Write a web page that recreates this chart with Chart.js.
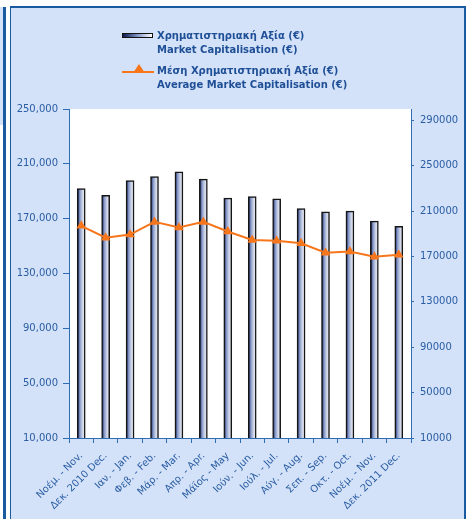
<!DOCTYPE html>
<html>
<head>
<meta charset="utf-8">
<script src="https://cdn.jsdelivr.net/npm/chart.js@4.4.1/dist/chart.umd.min.js"></script>
<style>
  body { margin: 0; background: #fff; width: 466px; height: 519px; overflow: hidden; position: relative; font-family: "DejaVu Sans", sans-serif; }
  #strip1 { position: absolute; left: 0; top: 7px; width: 3px; height: 118px; background: #d3e2f8; }
  #strip2 { position: absolute; left: 3px; top: 7px; width: 3px; height: 520px; background: #1a5aa0; }
  #panel { position: absolute; left: 10px; top: 6px; width: 453px; height: 520px; background: #d3e2f8;
           border-left: 1px solid #1a5aa0; border-top: 2px solid #1a5aa0; border-right: 2px solid #1a5aa0; }
  #myChart { position: absolute; left: 0; top: 0; }
  #legend { position: absolute; left: 122px; top: 29px; color: #1f4f96; font-weight: bold; font-size: 10px; line-height: 14px; }
  .item { position: relative; padding-left: 35px; margin-bottom: 6.5px; }
  .sw { position: absolute; left: 0; }
  .bar { top: 4px; width: 29px; height: 2.5px; border: 1.5px solid #111; background: linear-gradient(to right, #0b1a52, #8ea0cc 55%, #fff); }
  .ln { top: 7px; width: 32px; height: 2px; background: #f7761c; }
  .tri { position: absolute; left: 11px; top: -7px; width: 0; height: 0; border-left: 6px solid transparent; border-right: 6px solid transparent; border-bottom: 9px solid #f7761c; }
</style>
</head>
<body>
<div id="strip1"></div>
<div id="strip2"></div>
<div id="panel"></div>
<canvas id="myChart" width="466" height="519"></canvas>
<div id="legend"></div>
<script>
const categories = ['Νοέμ. - Nov.', 'Δεκ. 2010 Dec.', 'Ιαν. - Jan.', 'Φεβ. - Feb.', 'Μάρ. - Mar.', 'Απρ. - Apr.', 'Μάϊος - May',
  'Ιούν. - Jun.', 'Ιούλ. - Jul.', 'Αύγ. - Aug.', 'Σεπ. - Sep.', 'Οκτ. - Oct.', 'Νοέμ. - Nov.', 'Δεκ. 2011 Dec.'];
const marketCap = [192000, 187000, 197800, 200700, 204100, 198800, 185000, 186100, 184500, 177400, 175000, 175500, 168200, 164500];
const avgMarketCap = [197000, 186500, 189300, 200500, 195500, 200500, 192000, 184500, 183800, 181600, 173300, 174400, 169700, 171500];
const labelsGr = ['Χρηματιστηριακή Αξία (€)', 'Μέση Χρηματιστηριακή Αξία  (€)'];
const labelsEn = ['Market Capitalisation (€)', 'Average Market Capitalisation (€)'];
const leftTicks = [10000, 50000, 90000, 130000, 170000, 210000, 250000];
const rightTicks = [10000, 50000, 90000, 130000, 170000, 210000, 250000, 290000];
const rightMax = 300000;

const blue = '#2e6db4';
const textBlue = '#2a5da3';
const font = { family: 'DejaVu Sans', size: 10 };

function barFill(c) {
  const sx = c.chart.scales.x;
  if (!sx || sx.width === undefined) return '#8ea0cc';
  const cx = sx.getPixelForValue(c.dataIndex);
  const g = c.chart.ctx.createLinearGradient(cx - 3.5, 0, cx + 3.5, 0);
  g.addColorStop(0, '#1a2a66');
  g.addColorStop(0.3, '#8597c8');
  g.addColorStop(0.65, '#c8d0e4');
  g.addColorStop(1, '#eef0f6');
  return g;
}

const plotBg = {
  id: 'plotBg',
  beforeDraw(chart) {
    const a = chart.chartArea;
    chart.ctx.save();
    chart.ctx.fillStyle = '#fff';
    chart.ctx.fillRect(a.left, a.top, a.right - a.left, a.bottom - a.top);
    chart.ctx.restore();
  }
};

const ctx = document.getElementById('myChart').getContext('2d');
const chart = new Chart(ctx, {
  type: 'bar',
  data: {
    labels: categories,
    datasets: [
      {
        type: 'bar',
        label: labelsEn[0],
        data: marketCap,
        yAxisID: 'y',
        backgroundColor: barFill,
        borderColor: '#151515',
        borderWidth: 1.5,
        barThickness: 8,
        order: 2
      },
      {
        type: 'line',
        label: labelsEn[1],
        data: avgMarketCap,
        yAxisID: 'y2',
        borderColor: '#f7761c',
        backgroundColor: '#f7761c',
        borderWidth: 2,
        pointStyle: 'triangle',
        pointRadius: 5.5,
        pointBorderWidth: 0,
        order: 1
      }
    ]
  },
  options: {
    responsive: false,
    animation: false,
    layout: { padding: { top: 109, left: 0, right: 0, bottom: 0 } },
    plugins: { legend: { display: false }, tooltip: { enabled: false } },
    scales: {
      x: {
        offset: true,
        grid: { display: true, drawOnChartArea: false, offset: true, color: blue, tickLength: 5 },
        border: { color: blue, width: 1 },
        ticks: { font: font, color: textBlue, minRotation: 45, maxRotation: 45, autoSkip: false, padding: 7 },
        afterFit: s => { s.height = 81; }
      },
      y: {
        position: 'left',
        min: leftTicks[0], max: leftTicks[leftTicks.length - 1],
        grid: { drawOnChartArea: false, color: blue, tickLength: 6 },
        border: { color: blue, width: 1 },
        ticks: { font: font, color: textBlue, padding: 5, callback: v => v.toLocaleString('en-US') },
        afterBuildTicks: s => { s.ticks = leftTicks.map(v => ({ value: v })); },
        afterFit: s => { s.width = 69; }
      },
      y2: {
        position: 'right',
        min: rightTicks[0], max: rightMax,
        grid: { drawOnChartArea: false, color: blue, tickLength: 3 },
        border: { color: blue, width: 1 },
        ticks: { font: font, color: textBlue, padding: 6, callback: v => String(v) },
        afterBuildTicks: s => { s.ticks = rightTicks.map(v => ({ value: v })); },
        afterFit: s => { s.width = 55; }
      }
    }
  },
  plugins: [plotBg]
});

// html legend
const legend = document.getElementById('legend');
['bar', 'ln'].forEach((kind, i) => {
  const item = document.createElement('div');
  item.className = 'item';
  const sw = document.createElement('div');
  sw.className = 'sw ' + kind;
  if (kind === 'ln') {
    const t = document.createElement('div');
    t.className = 'tri';
    sw.appendChild(t);
  }
  item.appendChild(sw);
  item.appendChild(document.createTextNode(labelsGr[i]));
  item.appendChild(document.createElement('br'));
  item.appendChild(document.createTextNode(labelsEn[i]));
  legend.appendChild(item);
});
</script>
</body>
</html>
